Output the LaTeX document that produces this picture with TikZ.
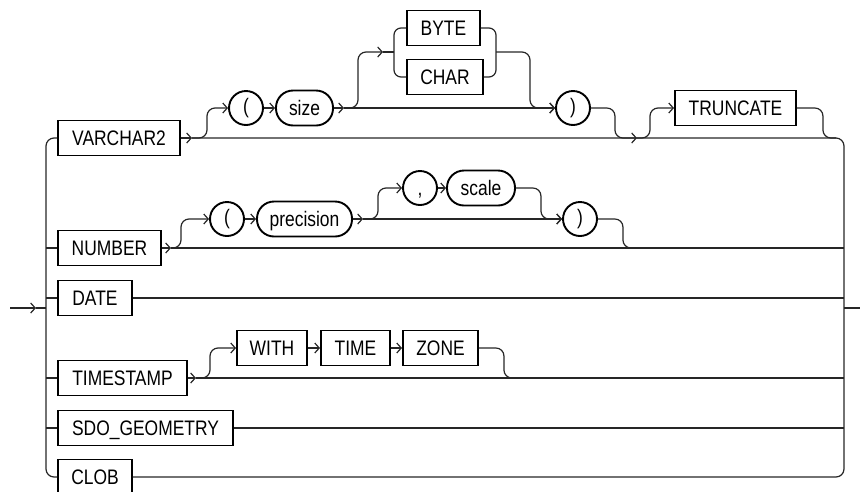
\documentclass[tikz,border=0pt]{standalone}
\usepackage{fontspec}
\setmainfont{Liberation Sans}[FakeStretch=0.83]
\usetikzlibrary{arrows.meta}
\begin{document}
\begin{tikzpicture}[x=1pt,y=-1pt,
  line/.style={line width=1.2pt, draw=black!85},
  arr/.style={line, -{Straight Barb[length=4.5pt,width=10pt,line width=1.2pt]}},
  lbl/.style={font=\fontsize{21}{21}\selectfont, inner sep=0pt},
  kw/.style={lbl, draw, line width=1.9pt, rectangle, minimum height=35pt, text height=15.5pt, text depth=0pt},
  term/.style={kw, rounded corners=17pt},
  ch/.style={lbl, draw, line width=1.9pt, circle, minimum size=34pt},
  rc/.style={rounded corners=8pt}
]
\useasboundingbox (0,0) rectangle (860,491);

% main alternatives
\node[kw, minimum width=122pt] (varchar) at (119,138) {VARCHAR2};
\node[kw, minimum width=103pt] (number) at (109.5,248) {NUMBER};
\node[kw, minimum width=74pt] (date) at (95,298) {DATE};
\node[kw, minimum width=129pt] (ts) at (122.5,378) {TIMESTAMP};
\node[kw, minimum width=175pt] (sdo) at (145.5,428) {SDO\_GEOMETRY};
\node[kw, minimum width=74pt] (clob) at (95,477) {CLOB};

% entry / exit
\coordinate (start) at (10,308);
\coordinate (ea) at (36,308);
\coordinate (lj) at (46,308);
\coordinate (rj) at (844,308);
\coordinate (end) at (860,308);
\draw[arr] (start) -- (ea);
\draw[line] (ea) -- (lj);
\draw[line] (rj) -- (end);

% left rail
\draw[line, rc] (varchar.west) -| (46,477) -- (clob.west);
\draw[line] (46,248) -- (number.west);
\draw[line] (46,298) -- (date.west);
\draw[line] (46,378) -- (ts.west);
\draw[line] (46,428) -- (sdo.west);

% right rail and bypass lines
\coordinate (v1) at (192,138);
\draw[arr] (varchar.east) -- (v1);
\draw[line, rc] (v1) -| (844,477) -- (clob.east);
\coordinate (n1) at (171,248);
\draw[arr] (number.east) -- (n1);
\draw[line] (n1) -- (844,248);
\draw[line] (date.east) -- (844,298);
\coordinate (t1) at (196,378);
\draw[arr] (ts.east) -- (t1);
\draw[line] (t1) -- (844,378);
\draw[line] (sdo.east) -- (844,428);

% VARCHAR2 options
\node[ch] (lp1) at (246,108) {(};
\node[term, minimum width=57pt] (size) at (304.5,108) {size};
\node[kw, minimum width=73pt] (byte) at (443.5,28) {BYTE};
\node[kw, minimum width=76pt] (char) at (445,77) {CHAR};
\node[ch] (rp1) at (573,108) {)};
\node[kw, minimum width=121pt] (trunc) at (735.5,108) {TRUNCATE};

\draw[arr, rc] (v1) -- ++(15,0) |- (lp1.west);
\draw[arr] (lp1) -- (size);
\coordinate (v2) at (344,108);
\draw[arr] (size.east) -- (v2);
\coordinate (b0) at (383,52);
\draw[arr, rc] (v2) -- ++(14,0) |- (b0);
\draw[line] (b0) -- (394,52);
\draw[line, rounded corners=7pt] (byte.west) -| (394,77) -- (char.west);
\draw[line, rounded corners=7pt] (byte.east) -| (496,77) -- (char.east);
\draw[arr, rc] (496,52) -- ++(34,0) |- (rp1.west);
\draw[arr] (v2) -- (rp1.west);
\coordinate (m1) at (637,138);
\draw[arr, rc] (rp1.east) -- ++(24,0) |- (m1);
\draw[arr, rc] (m1) -- ++(13,0) |- (trunc.west);
\draw[line, rc] (trunc.east) -- ++(26,0) |- (836,138);

% NUMBER options
\node[ch] (lp2) at (227,219) {(};
\node[term, minimum width=95pt] (prec) at (304.5,219) {precision};
\node[ch, text height=15.5pt, text depth=0pt] (comma) at (420,188) {,};
\node[term, minimum width=68pt] (scale) at (481,188) {scale};
\node[ch] (rp2) at (580,219) {)};

\draw[arr, rc] (n1) -- ++(10,0) |- (lp2.west);
\draw[arr] (lp2) -- (prec);
\coordinate (n2) at (363,219);
\draw[arr] (prec.east) -- (n2);
\draw[arr, rc] (n2) -- ++(15,0) |- (comma.west);
\draw[arr] (comma) -- (scale);
\draw[arr, rc] (scale.east) -- ++(25,0) |- (rp2.west);
\draw[arr] (n2) -- (rp2.west);
\draw[line, rc] (rp2.east) -- ++(25,0) |- (636,248);

% TIMESTAMP options
\node[kw, minimum width=70pt] (with) at (272,348) {WITH};
\node[kw, minimum width=69pt] (time) at (355.5,348) {TIME};
\node[kw, minimum width=75pt] (zone) at (440.5,348) {ZONE};
\draw[arr, rc] (t1) -- ++(14,0) |- (with.west);
\draw[arr] (with) -- (time);
\draw[arr] (time) -- (zone);
\draw[line, rc] (zone.east) -- ++(25,0) |- (517,378);
\end{tikzpicture}
\end{document}
